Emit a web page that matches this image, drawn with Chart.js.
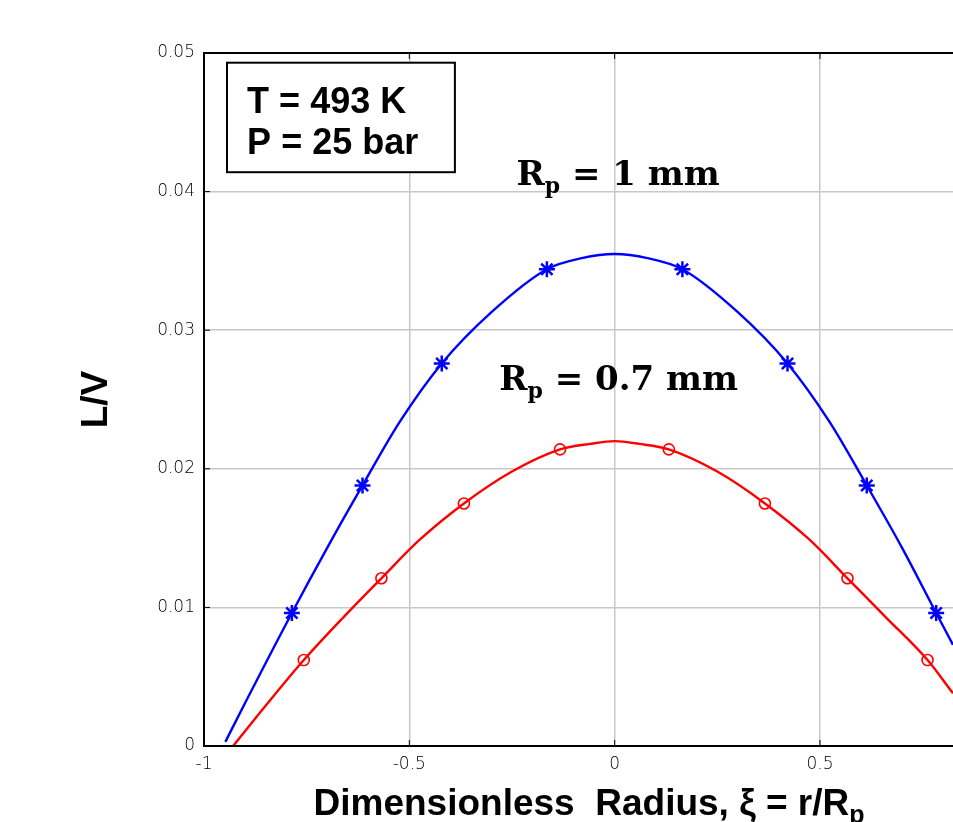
<!DOCTYPE html>
<html>
<head>
<meta charset="utf-8">
<script src="https://cdn.jsdelivr.net/npm/chart.js@4.4.1/dist/chart.umd.min.js"></script>
<style>
  html, body { margin: 0; padding: 0; background: #fff; }
  canvas { display: block; }
</style>
</head>
<body>
<canvas id="graf" width="953" height="822"></canvas>
<script>
"use strict";

// Rp = 1 mm : markers (*) and curve
const blueMarkX = [-0.786, -0.614, -0.421, -0.165, 0.165, 0.421, 0.614, 0.783];
const blueMarkY = [0.0096, 0.0188, 0.0276, 0.0344, 0.0344, 0.0276, 0.0188, 0.0096];
const blueLineX = [-0.948, -0.9, -0.786, -0.7, -0.614, -0.523, -0.421, -0.3, -0.165, -0.08, 0, 0.08, 0.165, 0.3, 0.421, 0.523, 0.614, 0.7, 0.783, 0.824];
const blueLineY = [0.0003, 0.0031, 0.0096, 0.0143, 0.0188, 0.0234, 0.0276, 0.0313, 0.0344, 0.0352, 0.0355, 0.0352, 0.0344, 0.0313, 0.0276, 0.0234, 0.0188, 0.0143, 0.0096, 0.0073];

// Rp = 0.7 mm : markers (o) and curve
const redMarkX = [-0.757, -0.568, -0.367, -0.133, 0.132, 0.366, 0.567, 0.762];
const redMarkY = [0.0062, 0.0121, 0.0175, 0.0214, 0.0214, 0.0175, 0.0121, 0.0062];
const redLineX = [-0.929, -0.85, -0.757, -0.66, -0.568, -0.474, -0.367, -0.25, -0.133, -0.06, 0, 0.06, 0.132, 0.25, 0.366, 0.474, 0.567, 0.66, 0.762, 0.824];
const redLineY = [0, 0.0029, 0.0062, 0.0093, 0.0121, 0.0149, 0.0175, 0.0198, 0.0214, 0.0218, 0.0220, 0.0218, 0.0214, 0.0198, 0.0175, 0.0149, 0.0121, 0.0093, 0.0062, 0.0038];

const xTicks = [-1, -0.5, 0, 0.5];
const yTicks = [0, 0.01, 0.02, 0.03, 0.04, 0.05];

const pts = (xs, ys) => xs.map((x, i) => ({ x, y: ys[i] }));

const sans  = "'Liberation Sans', Arial, sans-serif";
const serif = "'DejaVu Serif', serif";
const tickFont = { family: "'DejaVu Sans', sans-serif", size: 17, weight: 200 };

// text with a subscript part: parts = [[text, fontSize, dy]]
function richText(ctx, parts, x, y, weight, family) {
  ctx.textBaseline = "alphabetic";
  ctx.textAlign = "left";
  parts.forEach(([t, size, dy]) => {
    ctx.font = `${weight} ${size}px ${family}`;
    ctx.fillText(t, x, y + dy);
    x += ctx.measureText(t).width;
  });
}

const pynt = {
  id: "pynt",
  afterDatasetsDraw(chart) {
    const { ctx, chartArea: a, scales: { x, y } } = chart;
    ctx.save();
    // axes lines (left, bottom, top)
    ctx.strokeStyle = "#000";
    ctx.lineWidth = 2;
    ctx.beginPath();
    ctx.moveTo(chart.width + 5, a.top); ctx.lineTo(a.left, a.top);
    ctx.lineTo(a.left, a.bottom); ctx.lineTo(chart.width + 5, a.bottom);
    ctx.stroke();
    // small inner ticks
    ctx.lineWidth = 1;
    xTicks.forEach(v => {
      const px = x.getPixelForValue(v);
      ctx.beginPath(); ctx.moveTo(px, a.bottom); ctx.lineTo(px, a.bottom - 6); ctx.stroke();
      ctx.beginPath(); ctx.moveTo(px, a.top); ctx.lineTo(px, a.top + 6); ctx.stroke();
    });
    yTicks.forEach(v => {
      const py = y.getPixelForValue(v);
      ctx.beginPath(); ctx.moveTo(a.left, py); ctx.lineTo(a.left + 6, py); ctx.stroke();
    });

    // condition box
    const bx0 = x.getPixelForValue(-0.944), bx1 = x.getPixelForValue(-0.389);
    const by0 = y.getPixelForValue(0.0493), by1 = y.getPixelForValue(0.0414);
    ctx.fillStyle = "#fff";
    ctx.fillRect(bx0, by0, bx1 - bx0, by1 - by0);
    ctx.lineWidth = 2;
    ctx.strokeRect(bx0, by0, bx1 - bx0, by1 - by0);
    ctx.fillStyle = "#000";
    ctx.font = `bold 36px ${sans}`;
    ctx.textAlign = "left";
    ctx.textBaseline = "alphabetic";
    ctx.fillText("T = 493 K", x.getPixelForValue(-0.895), y.getPixelForValue(0.0457));
    ctx.fillText("P = 25 bar", x.getPixelForValue(-0.895), y.getPixelForValue(0.0427));

    // curve labels
    richText(ctx, [["R", 34, 0], ["p", 22, 8], [" = 1 mm", 34, 0]],
      x.getPixelForValue(-0.239), y.getPixelForValue(0.0405), "bold", serif);
    richText(ctx, [["R", 34, 0], ["p", 22, 8], [" = 0.7 mm", 34, 0]],
      x.getPixelForValue(-0.281), y.getPixelForValue(0.0257), "bold", serif);

    // axis titles
    const main = "Dimensionless  Radius, \u03BE = r/R";
    ctx.font = `bold 37px ${sans}`;
    const w1 = ctx.measureText(main).width;
    ctx.font = `bold 25px ${sans}`;
    const w2 = ctx.measureText("p").width;
    richText(ctx, [[main, 37, 0], ["p", 25, 8]], 589 - (w1 + w2) / 2, 815, "bold", sans);

    ctx.translate(97, (a.top + a.bottom) / 2);
    ctx.rotate(-Math.PI / 2);
    ctx.font = `bold 37px ${sans}`;
    ctx.textAlign = "center";
    ctx.textBaseline = "middle";
    ctx.fillText("L/V", 0, 0);
    ctx.restore();
  }
};

new Chart(document.getElementById("graf").getContext("2d"), {
  type: "line",
  data: {
    datasets: [
      { data: pts(blueLineX, blueLineY), borderColor: "#0000ff", borderWidth: 2.4, pointRadius: 0, cubicInterpolationMode: "monotone", order: 3 },
      { data: pts(redLineX, redLineY),   borderColor: "#ff0000", borderWidth: 2.4, pointRadius: 0, cubicInterpolationMode: "monotone", order: 3 },
      { data: pts(blueMarkX, blueMarkY), showLine: false, pointStyle: "star",   pointRadius: 8, borderColor: "#0000ff", borderWidth: 2.5, backgroundColor: "#0000ff", order: 1 },
      { data: pts(redMarkX, redMarkY),   showLine: false, pointStyle: "circle", pointRadius: 5.5, borderColor: "#ff0000", borderWidth: 1.6, backgroundColor: "rgba(0,0,0,0)", order: 1 }
    ]
  },
  options: {
    responsive: false,
    animation: false,
    layout: { autoPadding: false, padding: { top: 53, right: 0, left: 0, bottom: 0 } },
    plugins: { legend: { display: false }, tooltip: { enabled: false } },
    scales: {
      x: {
        type: "linear", min: -1, max: 0.824,
        afterBuildTicks: s => { s.ticks = xTicks.map(v => ({ value: v })); },
        afterFit: s => { s.height = 76; s.paddingLeft = 0; s.paddingRight = 0; },
        border: { display: false },
        grid: { color: c => c.tick && c.tick.value === -1 ? "rgba(0,0,0,0)" : "#c8c8c8", lineWidth: 1.5, drawTicks: false },
        ticks: { padding: 8, color: "#000", font: tickFont, callback: v => String(v) }
      },
      y: {
        type: "linear", min: 0, max: 0.05,
        afterBuildTicks: s => { s.ticks = yTicks.map(v => ({ value: v })); },
        afterFit: s => { s.width = 204; s.paddingTop = 0; s.paddingBottom = 0; },
        border: { display: false },
        grid: { color: c => c.tick && (c.tick.value === 0 || c.tick.value === 0.05) ? "rgba(0,0,0,0)" : "#c8c8c8", lineWidth: 1.5, drawTicks: false },
        ticks: { padding: 9, color: "#000", font: tickFont, callback: v => String(v) }
      }
    }
  },
  plugins: [pynt]
});
</script>
</body>
</html>
